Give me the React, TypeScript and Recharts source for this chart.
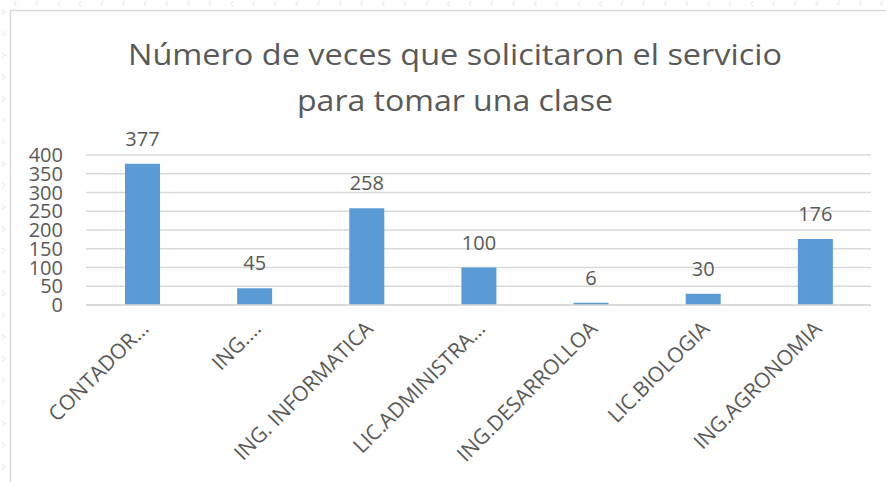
import React from 'react';
import { BarChart, Bar, XAxis, YAxis, CartesianGrid, LabelList } from 'recharts';

const categories = [
  'CONTADOR…',
  'ING.…',
  'ING. INFORMATICA',
  'LIC.ADMINISTRA…',
  'ING.DESARROLLOA',
  'LIC.BIOLOGIA',
  'ING.AGRONOMIA',
];
const values = [377, 45, 258, 100, 6, 30, 176];
const yTicks = [0, 50, 100, 150, 200, 250, 300, 350, 400];
const titleLines = ['Número de veces que solicitaron el servicio', 'para tomar una clase'];

const data = categories.map((c, i) => ({ name: c, value: values[i] }));

const FONT = '"Open Sans", sans-serif';
const TEXT = '#595959';
const GRID = '#D9D9D9';
const BAR = '#5B9BD5';

const XTick = (props: any) => {
  const { x, y, payload } = props;
  return (
    <text
      transform={`translate(${x + 8},${y + 25}) rotate(-45)`}
      textAnchor="end"
      fill={TEXT}
      fontSize={21}
      fontFamily={FONT}
    >
      {payload.value}
    </text>
  );
};

const leftMarks = Array.from({ length: 22 }, (_, i) => 12 + i * 21.67);
const topMarks = Array.from({ length: 41 }, (_, i) => 15 + i * 21.67);

export default function App() {
  return (
    <div style={{ position: 'absolute', left: 0, top: 0, width: 886, height: 482, background: '#fff' }}>
      <svg width={886} height={482} style={{ position: 'absolute', left: 0, top: 0 }}>
        {leftMarks.map((m, i) => (
          <path key={'l' + i} d={`M2 ${m - 2.5} L5 ${m} L2 ${m + 2.5}`} stroke="#ececec" strokeWidth={1.2} fill="none" />
        ))}
        {topMarks.map((m, i) => (
          <path key={'t' + i} d={`M${m + 1.5} 1 L${m - 1} 3.5 L${m + 1.5} 6`} stroke="#ececec" strokeWidth={1.2} fill="none" />
        ))}
        <line x1={10} y1={10.5} x2={886} y2={10.5} stroke={GRID} strokeWidth={1.5} />
        <line x1={10.5} y1={10} x2={10.5} y2={482} stroke={GRID} strokeWidth={1.5} />
      </svg>
      <div style={{ position: 'absolute', left: 0, top: 0 }}>
        <BarChart
          width={886}
          height={482}
          data={data}
          margin={{ top: 155, right: 15, bottom: 0, left: 0 }}
          barSize={35}
        >
          <CartesianGrid vertical={false} stroke={GRID} strokeWidth={1.3} />
          <XAxis
            dataKey="name"
            height={177}
            interval={0}
            tickSize={0}
            tickMargin={0}
            axisLine={{ stroke: GRID, strokeWidth: 1.3 }}
            tickLine={false}
            tick={<XTick />}
          />
          <YAxis
            width={86}
            domain={[0, 400]}
            ticks={yTicks}
            interval={0}
            axisLine={false}
            tickLine={false}
            tickSize={0}
            tickMargin={23}
            tick={{ fill: TEXT, fontSize: 20, fontFamily: FONT }}
          />
          <Bar dataKey="value" fill={BAR} isAnimationActive={false}>
            <LabelList
              dataKey="value"
              position="top"
              offset={18}
              fill={TEXT}
              fontSize={20}
              fontFamily={FONT}
            />
          </Bar>
        </BarChart>
      </div>
      <svg width={886} height={482} style={{ position: 'absolute', left: 0, top: 0, pointerEvents: 'none' }}>
        <text x={455} y={65} textAnchor="middle" fill={TEXT} fontSize={30} fontFamily={FONT} textLength={654} lengthAdjust="spacingAndGlyphs">
          {titleLines[0]}
        </text>
        <text x={455} y={110.5} textAnchor="middle" fill={TEXT} fontSize={30} fontFamily={FONT} textLength={316} lengthAdjust="spacingAndGlyphs">
          {titleLines[1]}
        </text>
      </svg>
    </div>
  );
}
